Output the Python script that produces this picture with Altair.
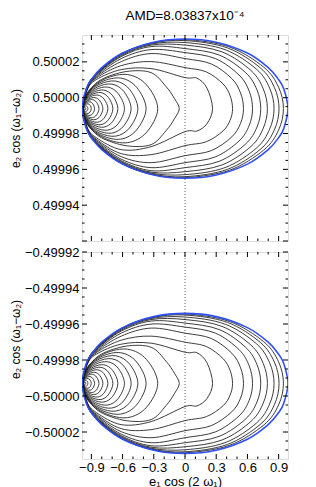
import altair as alt
import pandas as pd

# ---------------- data ----------------
TITLE = "AMD=8.03837x10⁻⁴"
X_DOMAIN = [-0.99, 0.99]
TOP_DOMAIN = [0.49992, 0.500035]
BOT_DOMAIN = [-0.500035, -0.49992]
TOP_CENTER = 0.4999939      # centre line of the top panel's family
BOT_CENTER = -0.499993      # centre line of the bottom panel's family

x_major = [-0.9, -0.6, -0.3, 0.0, 0.3, 0.6, 0.9]
x_minor = [-0.8, -0.7, -0.5, -0.4, -0.2, -0.1, 0.1, 0.2, 0.4, 0.5, 0.7, 0.8]
top_major = [0.49992, 0.49994, 0.49996, 0.49998, 0.50000, 0.50002]
top_minor = [0.499925, 0.49993, 0.499935, 0.499945, 0.49995, 0.499955,
             0.499965, 0.49997, 0.499975, 0.499985, 0.49999, 0.499995,
             0.500005, 0.50001, 0.500015, 0.500025, 0.50003]
top_labels = [0.49994, 0.49996, 0.49998, 0.50000, 0.50002]
bot_major = [-0.49992, -0.49994, -0.49996, -0.49998, -0.50000, -0.50002]
bot_minor = [-0.499925, -0.49993, -0.499935, -0.499945, -0.49995, -0.499955,
             -0.499965, -0.49997, -0.499975, -0.499985, -0.49999, -0.499995,
             -0.500005, -0.50001, -0.500015, -0.500025, -0.50003]

# offsets (dy) are in units of 1e-5 from the panel's centre line
# outer (blue) boundary: upper half, the lower half is its mirror
blue_x = [-0.99, -0.95, -0.9, -0.8, -0.6, -0.3, 0.0, 0.3, 0.6, 0.8, 0.9, 0.95, 0.99]
blue_h = [0.0, 1.09, 1.62, 2.29, 3.10, 3.71, 3.89, 3.71, 3.10, 2.29, 1.62, 1.09, 0.0]

# inner family (closed loops round the left fixed point), symmetric: x and upper half-height
inner_x = [
    [-0.972, -0.9707, -0.9666, -0.9612, -0.9567, -0.954],
    [-0.976, -0.973, -0.9631, -0.9502, -0.9395, -0.933],
    [-0.978, -0.9726, -0.9549, -0.9318, -0.9126, -0.901],
    [-0.979, -0.9713, -0.946, -0.913, -0.8855, -0.869],
    [-0.980, -0.9693, -0.9341, -0.8882, -0.8499, -0.827],
    [-0.980, -0.9666, -0.9227, -0.8654, -0.8177, -0.789],
    [-0.981, -0.9642, -0.909, -0.837, -0.777, -0.741],
    [-0.981, -0.9608, -0.8946, -0.8082, -0.7362, -0.693],
    [-0.982, -0.9584, -0.8809, -0.7798, -0.6956, -0.645],
    [-0.982, -0.954, -0.862, -0.742, -0.642, -0.582],
    [-0.982, -0.9495, -0.8428, -0.7036, -0.5876, -0.518],
    [-0.983, -0.9459, -0.824, -0.665, -0.5325, -0.453],
    [-0.983, -0.9404, -0.8003, -0.6176, -0.4654, -0.374],
    [-0.983, -0.9325, -0.7667, -0.5504, -0.3702, -0.262],
    [-0.984, -0.920, -0.805, -0.565, -0.326, -0.182, -0.10, -0.055],
]
inner_h = [
    [0, 0.034, 0.059, 0.067, 0.047, 0],
    [0, 0.078, 0.137, 0.156, 0.109, 0],
    [0, 0.134, 0.236, 0.268, 0.188, 0],
    [0, 0.190, 0.334, 0.380, 0.266, 0],
    [0, 0.252, 0.443, 0.503, 0.352, 0],
    [0, 0.308, 0.541, 0.615, 0.431, 0],
    [0, 0.377, 0.664, 0.754, 0.528, 0],
    [0, 0.447, 0.787, 0.894, 0.626, 0],
    [0, 0.517, 0.910, 1.034, 0.724, 0],
    [0, 0.601, 1.057, 1.201, 0.841, 0],
    [0, 0.685, 1.205, 1.369, 0.958, 0],
    [0, 0.768, 1.352, 1.536, 1.075, 0],
    [0, 0.852, 1.500, 1.704, 1.193, 0],
    [0, 0.950, 1.671, 1.899, 1.329, 0],
    [0, 0.95, 1.62, 2.07, 2.01, 1.23, 0.55, 0],
]

# outer family (loops that pass round the right side): x, upper offset, lower offset
LEFT = [-0.984, -0.939, -0.853, -0.613, -0.326, 0.0]
outer_x = [
    LEFT + [0.115, 0.211, 0.265],
    LEFT + [0.206, 0.366, 0.434, 0.457],
    LEFT + [0.253, 0.450, 0.534, 0.562],
    LEFT + [0.292, 0.519, 0.617, 0.649],
    LEFT + [0.328, 0.582, 0.692, 0.728],
    LEFT + [0.356, 0.634, 0.752, 0.792],
    LEFT + [0.385, 0.685, 0.813, 0.856],
    LEFT + [0.407, 0.723, 0.859, 0.904],
    LEFT + [0.426, 0.757, 0.899, 0.946],
]
outer_top = [
    [0, 1.061, 1.620, 2.179, 2.235, 1.732, 1.70, 1.15, 0],
    [0, 1.089, 1.704, 2.402, 2.626, 2.291, 2.046, 1.375, 0.715, 0],
    [0, 1.117, 1.760, 2.626, 3.073, 2.793, 2.494, 1.676, 0.871, 0],
    [0, 1.145, 1.816, 2.793, 3.296, 3.128, 2.793, 1.877, 0.976, 0],
    [0, 1.173, 1.872, 2.905, 3.464, 3.352, 2.993, 2.011, 1.046, 0],
    [0, 1.173, 1.899, 2.961, 3.547, 3.547, 3.167, 2.128, 1.107, 0],
    [0, 1.201, 1.927, 3.017, 3.603, 3.687, 3.292, 2.212, 1.150, 0],
    [0, 1.201, 1.955, 3.045, 3.642, 3.799, 3.392, 2.279, 1.185, 0],
    [0, 1.229, 1.955, 3.050, 3.665, 3.855, 3.443, 2.313, 1.203, 0],
]
outer_bot = [
    [0, -1.061, -1.620, -2.291, -2.123, -1.285, -1.25, -0.84, 0],
    [0, -1.089, -1.704, -2.514, -2.570, -2.067, -1.846, -1.240, -0.645, 0],
    [0, -1.117, -1.760, -2.682, -3.017, -2.626, -2.345, -1.576, -0.819, 0],
    [0, -1.145, -1.816, -2.821, -3.296, -3.017, -2.694, -1.810, -0.941, 0],
    [0, -1.173, -1.872, -2.905, -3.464, -3.296, -2.943, -1.978, -1.028, 0],
    [0, -1.173, -1.899, -2.961, -3.547, -3.520, -3.143, -2.112, -1.098, 0],
    [0, -1.201, -1.927, -3.017, -3.603, -3.687, -3.292, -2.212, -1.150, 0],
    [0, -1.201, -1.955, -3.045, -3.642, -3.799, -3.392, -2.279, -1.185, 0],
    [0, -1.229, -1.955, -3.050, -3.665, -3.855, -3.443, -2.313, -1.203, 0],
]


def loop(xs, top, bot):
    """closed loop: upper side left->right, lower side right->left"""
    pts = list(zip(xs, top))
    pts += list(zip(xs[-2:0:-1], bot[-2:0:-1]))
    return pts


def curve_frame(center):
    rows = []
    loops = []
    for xs, hs in zip(inner_x, inner_h):
        loops.append(loop(xs, hs, [-h for h in hs]))
    for xs, tp, bt in zip(outer_x, outer_top, outer_bot):
        loops.append(loop(xs, tp, bt))
    for k, pts in enumerate(loops):
        for i, (xv, dv) in enumerate(pts):
            rows.append({"curve": k, "i": i, "x": xv, "y": center + dv * 1e-5})
    return pd.DataFrame(rows)


def blue_frame(center):
    pts = loop(blue_x, blue_h, [-h for h in blue_h])
    return pd.DataFrame({"i": list(range(len(pts))), "x": [p[0] for p in pts],
                         "y": [center + p[1] * 1e-5 for p in pts]})


W = 206
FONT = "Liberation Sans"
MAJ, MINL = 5, 2.5


def panel(center, ydom, ymajor, yminor, ylabels, H, bottom_axis, title_y, title=None):
    xscale = alt.Scale(domain=X_DOMAIN, nice=False, zero=False)
    yscale = alt.Scale(domain=ydom, nice=False, zero=False)
    if bottom_axis:
        xaxis = alt.Axis(values=x_major, title="e₁ cos (2 ω₁)", domain=False, ticks=False,
                         grid=False, labelOverlap=False, labelFlush=False,
                         labelExpr="datum.value == 0 ? '0' : format(datum.value, '.1f')",
                         labelFont=FONT, labelFontSize=13, labelPadding=2, labelColor="black",
                         titleFont=FONT, titleFontSize=13, titleFontWeight="normal",
                         titlePadding=1, titleColor="black")
    else:
        xaxis = None
    yaxis = alt.Axis(values=ylabels, format=".5f", title="e₂ cos (ω₁−ω₂)", domain=False,
                     ticks=False, grid=False, labelOverlap=False, labelFlush=False,
                     labelFont=FONT, labelFontSize=13, labelPadding=3, labelColor="black",
                     titleFont=FONT, titleFontSize=12, titleFontWeight="normal",
                     titleX=-60, titleY=title_y, titleColor="black")
    X = alt.X("x:Q", scale=xscale, axis=xaxis)
    Y = alt.Y("y:Q", scale=yscale, axis=yaxis)

    contours = alt.Chart(curve_frame(center)).mark_line(
        interpolate="cardinal-closed", color="#1a1a1a", strokeWidth=0.85, clip=True
    ).encode(x=X, y=Y, detail="curve:N", order="i:Q")
    blue = alt.Chart(blue_frame(center)).mark_line(
        interpolate="cardinal-closed", color="#3050f5", strokeWidth=1.6, clip=True
    ).encode(x=X, y=Y, order="i:Q")
    zero = alt.Chart(pd.DataFrame({"x": [0.0]})).mark_rule(
        color="#444444", strokeWidth=0.8, strokeDash=[1, 2]
    ).encode(x=X)

    ticks = []
    for vals, L in ((x_major, MAJ), (x_minor, MINL)):
        df = pd.DataFrame({"x": vals})
        ticks.append(alt.Chart(df).mark_rule(color="black", strokeWidth=1).encode(
            x=X, y=alt.value(0), y2=alt.value(L)))
        ticks.append(alt.Chart(df).mark_rule(color="black", strokeWidth=1).encode(
            x=X, y=alt.value(H), y2=alt.value(H - L)))
    for vals, L in ((ymajor, MAJ), (yminor, MINL)):
        df = pd.DataFrame({"y": vals})
        ticks.append(alt.Chart(df).mark_rule(color="black", strokeWidth=1).encode(
            y=Y, x=alt.value(0), x2=alt.value(L)))
        ticks.append(alt.Chart(df).mark_rule(color="black", strokeWidth=1).encode(
            y=Y, x=alt.value(W), x2=alt.value(W - L)))

    layer = alt.layer(contours, blue, zero, *ticks).properties(width=W, height=H)
    if title is not None:
        layer = layer.properties(title=title)
    return layer


top = panel(TOP_CENTER, TOP_DOMAIN, top_major, top_minor, top_labels, 206, False, 93,
            alt.TitleParams(TITLE, font=FONT, fontSize=13.5, fontWeight="normal",
                            anchor="middle", frame="group", offset=12, color="black"))
bot = panel(BOT_CENTER, BOT_DOMAIN, bot_major, bot_minor, bot_major, 207, True, 87)

chart = alt.vconcat(top, bot, spacing=3).properties(
    padding={"left": 0, "top": 0, "right": 0, "bottom": 0}
).configure_view(stroke="#333333", strokeWidth=1).configure_axis(
    labelOverlap=False, labelFlush=False
).configure(background="white")

chart.save("out.html", embed_options={"renderer": "svg", "actions": False})
